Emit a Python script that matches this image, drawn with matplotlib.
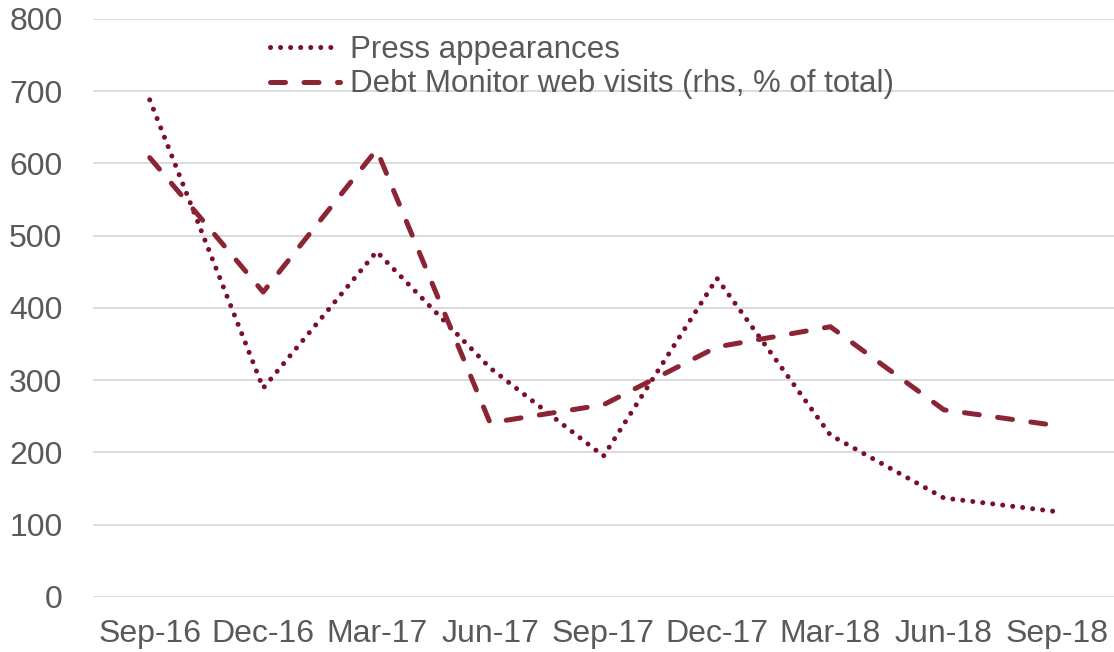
import matplotlib
matplotlib.use('Agg')
import matplotlib.pyplot as plt

plt.rcParams['font.family'] = ['Liberation Sans', 'DejaVu Sans']

quarters = ['Sep-16', 'Dec-16', 'Mar-17', 'Jun-17', 'Sep-17',
            'Dec-17', 'Mar-18', 'Jun-18', 'Sep-18']
press_appearances = [688, 289, 478, 317, 195, 441, 224, 137, 118]
web_visits = [608, 422, 619, 241, 266, 346, 374, 259, 237]

fig = plt.figure(figsize=(11.14, 6.52), dpi=100)
ax = fig.add_axes([0.0835, 0.0844, 0.9165, 0.8866])

x = range(len(quarters))
ax.plot(x, press_appearances, color='#7b0d2e', lw=3.6, linestyle=(0, (0.01, 2.0)),
        dash_capstyle='round', label='Press appearances')
ax.plot(x, web_visits, color='#8b2434', lw=3.6, linestyle=(0, (3, 3.7)),
        dash_capstyle='round', label='Debt Monitor web visits (rhs, % of total)')

ax.set_xlim(-0.5, len(quarters) - 0.5)
ax.set_ylim(0, 800)
ax.set_yticks(range(0, 801, 100))
ax.set_xticks(list(x))
ax.set_xticklabels(quarters)
ax.grid(axis='y', color='#d9d9d9', lw=1.3)
ax.set_axisbelow(True)
for s in ax.spines.values():
    s.set_visible(False)
ax.tick_params(length=0, labelsize=23, labelcolor='#595959')
ax.tick_params(axis='y', pad=22)
ax.tick_params(axis='x', pad=16)

ax.legend(loc='upper left', bbox_to_anchor=(0.155, 1.005), frameon=False,
          fontsize=22.5, labelcolor='#595959', handlelength=2.25,
          handletextpad=0.3, labelspacing=0.15, borderaxespad=0.2)

fig.savefig('out.png', dpi=100)
